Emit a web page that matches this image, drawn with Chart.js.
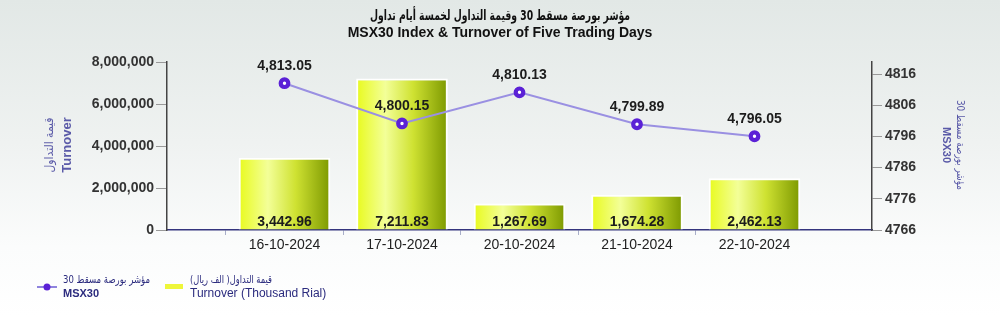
<!DOCTYPE html>
<html>
<head>
<meta charset="utf-8">
<script src="https://cdn.jsdelivr.net/npm/chart.js@4.4.1/dist/chart.umd.min.js"></script>
<style>
html,body{margin:0;padding:0;background:#fff;}
#wrap{width:1000px;height:317px;position:relative;}
</style>
</head>
<body>
<div id="wrap"><canvas id="c" width="1000" height="317"></canvas></div>
<script>
const categories = ['16-10-2024', '17-10-2024', '20-10-2024', '21-10-2024', '22-10-2024'];
const turnoverThousand = [3442.96, 7211.83, 1267.69, 1674.28, 2462.13];
const msx30 = [4813.05, 4800.15, 4810.13, 4799.89, 4796.05];
const turnoverTicks = [0, 2000000, 4000000, 6000000, 8000000];
const msxTicks = [4766, 4776, 4786, 4796, 4806, 4816];

const titleAr = 'مؤشر بورصة مسقط 30 وقيمة التداول لخمسة أيام تداول';
const titleEn = 'MSX30 Index & Turnover of Five Trading Days';
const leftTitleAr = 'قيمة التداول';
const leftTitleEn = 'Turnover';
const rightTitleAr = 'مؤشر بورصة مسقط 30';
const rightTitleEn = 'MSX30';
const legendLineAr = 'مؤشر بورصة مسقط 30';
const legendLineEn = 'MSX30';
const legendBarAr = 'قيمة التداول( الف ريال)';
const legendBarEn = 'Turnover (Thousand Rial)';

const labels = [''].concat(categories, ['']);
const barData = [null].concat(turnoverThousand.map(v => v * 1000), [null]);
const lineData = [null].concat(msx30, [null]);

const FONT = "'Liberation Sans', Arial, sans-serif";
const AR_FONT = "'DejaVu Sans', 'Liberation Sans', sans-serif";
const fmt2 = v => v.toLocaleString('en-US', {minimumFractionDigits: 2, maximumFractionDigits: 2});

// draw text squeezed horizontally to a given width; align: 'center' or 'left'
function fitText(c, text, x, y, width, font, align, rtl) {
  c.save();
  c.font = font;
  c.direction = rtl ? 'rtl' : 'ltr';
  const m = c.measureText(text).width;
  const s = Math.min(1, width / m);
  c.translate(x, y);
  c.scale(s, 1);
  c.textAlign = align;
  c.textBaseline = 'middle';
  c.fillText(text, 0, 0);
  c.restore();
}

const bgPlugin = {
  id: 'bg',
  beforeDraw(chart) {
    const c = chart.ctx;
    const g = c.createLinearGradient(0, 0, 0, chart.height);
    g.addColorStop(0, '#e2e8e6');
    g.addColorStop(0.45, '#eff2f1');
    g.addColorStop(0.78, '#fbfcfc');
    g.addColorStop(1, '#ffffff');
    c.save();
    c.fillStyle = g;
    c.fillRect(0, 0, chart.width, chart.height);
    c.restore();
  }
};

const decoPlugin = {
  id: 'deco',
  afterDatasetsDraw(chart) {
    const c = chart.ctx;
    c.save();
    c.fillStyle = '#1c1c1c';
    c.textAlign = 'center';
    c.textBaseline = 'middle';
    c.font = 'bold 14px ' + FONT;
    const metaBar = chart.getDatasetMeta(0);
    metaBar.data.forEach((el, i) => {
      if (barData[i] == null) return;
      c.fillText(fmt2(barData[i] / 1000), el.x, chart.scales.y.bottom - 8);
    });
    const metaLine = chart.getDatasetMeta(1);
    metaLine.data.forEach((el, i) => {
      if (lineData[i] == null) return;
      c.fillText(fmt2(lineData[i]), el.x, el.y - 17);
    });
    c.restore();
  },
  afterDraw(chart) {
    const c = chart.ctx;
    c.save();
    // Title
    c.fillStyle = '#111';
    fitText(c, titleAr, 500, 16, 260, 'bold 14px ' + AR_FONT, 'center', true);
    c.textAlign = 'center';
    c.textBaseline = 'middle';
    c.font = 'bold 14px ' + FONT;
    c.fillText(titleEn, 500, 33);

    // Left axis title
    c.fillStyle = '#5a5aa8';
    c.save();
    c.translate(50, 145);
    c.rotate(-Math.PI / 2);
    fitText(c, leftTitleAr, 0, 0, 55, '12px ' + AR_FONT, 'center', true);
    c.restore();
    c.save();
    c.translate(67, 145);
    c.rotate(-Math.PI / 2);
    c.font = 'bold 13px ' + FONT;
    c.textAlign = 'center';
    c.textBaseline = 'middle';
    c.fillText(leftTitleEn, 0, 0);
    c.restore();

    // Right axis title
    c.save();
    c.translate(960, 145);
    c.rotate(Math.PI / 2);
    fitText(c, rightTitleAr, 0, 0, 90, '11px ' + AR_FONT, 'center', true);
    c.restore();
    c.save();
    c.translate(946, 145);
    c.rotate(Math.PI / 2);
    c.font = 'bold 11px ' + FONT;
    c.textAlign = 'center';
    c.textBaseline = 'middle';
    c.fillText(rightTitleEn, 0, 0);
    c.restore();

    // Legend
    c.strokeStyle = '#8f84de';
    c.lineWidth = 2;
    c.beginPath();
    c.moveTo(37, 287);
    c.lineTo(57, 287);
    c.stroke();
    c.beginPath();
    c.arc(47, 287, 3.5, 0, Math.PI * 2);
    c.fillStyle = '#5b21d6';
    c.fill();

    c.fillStyle = '#eef63a';
    c.fillRect(165, 284, 18, 5);

    c.fillStyle = '#2b2b7e';
    fitText(c, legendLineAr, 63, 280, 87, '11px ' + AR_FONT, 'left', false);
    fitText(c, legendBarAr, 190, 280, 82, '11px ' + AR_FONT, 'left', false);
    c.textAlign = 'left';
    c.textBaseline = 'middle';
    c.direction = 'ltr';
    c.font = 'bold 11px ' + FONT;
    c.fillText(legendLineEn, 63, 294);
    c.font = '12px ' + FONT;
    c.fillText(legendBarEn, 190, 294);
    c.restore();
  }
};

const barGradient = (ctx) => {
  const chart = ctx.chart;
  if (ctx.type !== 'data' || !chart.chartArea) return '#e6f630';
  const x = chart.scales.x.getPixelForValue(ctx.dataIndex);
  const w = 92;
  const g = chart.ctx.createLinearGradient(x - w / 2, 0, x + w / 2, 0);
  g.addColorStop(0, '#e8fa1c');
  g.addColorStop(0.32, '#f3ff98');
  g.addColorStop(0.62, '#cfe232');
  g.addColorStop(1, '#7c9800');
  return g;
};

new Chart(document.getElementById('c'), {
  data: {
    labels: labels,
    datasets: [
      {
        type: 'bar',
        label: legendBarEn,
        data: barData,
        yAxisID: 'y',
        backgroundColor: barGradient,
        borderColor: '#ffffff',
        borderWidth: 2,
        borderSkipped: 'bottom',
        barPercentage: 0.78,
        categoryPercentage: 1,
        order: 2
      },
      {
        type: 'line',
        label: legendLineEn,
        data: lineData,
        yAxisID: 'y1',
        borderColor: '#9a90e2',
        borderWidth: 2,
        pointRadius: 3.8,
        pointBorderWidth: 4.2,
        pointBackgroundColor: '#ffffff',
        pointBorderColor: '#5b21d6',
        spanGaps: true,
        tension: 0,
        order: 1
      }
    ]
  },
  options: {
    responsive: false,
    animation: false,
    layout: {padding: {top: 62, left: 0, right: 0, bottom: 0}},
    plugins: {legend: {display: false}, title: {display: false}, tooltip: {enabled: false}},
    scales: {
      x: {
        type: 'category',
        offset: false,
        grid: {
          drawOnChartArea: false,
          tickLength: 5,
          color: (c) => (c.index === 0 || c.index === labels.length - 1) ? 'rgba(0,0,0,0)' : '#a8aec8'
        },
        border: {color: '#34347e', width: 1.5},
        ticks: {font: {family: FONT, size: 14}, color: '#222', padding: 2, autoSkip: false, maxRotation: 0},
        afterFit: (s) => { s.height = 87; }
      },
      y: {
        type: 'linear',
        position: 'left',
        min: 0,
        max: 8000000,
        afterBuildTicks: (s) => { s.ticks = turnoverTicks.map(v => ({value: v})); },
        grid: {drawOnChartArea: false, tickLength: 11, color: '#999'},
        border: {color: '#444', width: 1.5},
        ticks: {font: {family: FONT, size: 14, weight: 'bold'}, color: '#333', padding: 2,
          callback: (v) => v.toLocaleString('en-US')},
        afterFit: (s) => { s.width = 167; }
      },
      y1: {
        type: 'linear',
        position: 'right',
        min: 4766,
        max: 4819.85,
        afterBuildTicks: (s) => { s.ticks = msxTicks.map(v => ({value: v})); },
        grid: {drawOnChartArea: false, tickLength: 10, color: '#999'},
        border: {color: '#444', width: 1.5},
        ticks: {font: {family: FONT, size: 14, weight: 'bold'}, color: '#333', padding: 3,
          callback: (v) => String(v)},
        afterFit: (s) => { s.width = 128; }
      }
    }
  },
  plugins: [bgPlugin, decoPlugin]
});
</script>
</body>
</html>
